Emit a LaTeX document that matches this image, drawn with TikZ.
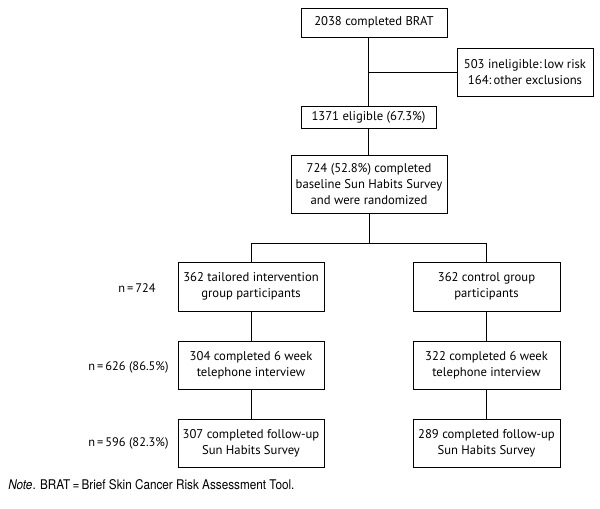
\documentclass[tikz,border=0pt]{standalone}
\usepackage{fontspec}
\setmainfont{PT Sans}
\newfontfamily\notefont[FakeStretch=0.88]{TeX Gyre Heros}
\usepackage{tikz}

\begin{document}
\begin{tikzpicture}[x=0.75pt, y=-0.75pt,
  box/.style={draw, line width=0.7pt, align=center, inner sep=0pt,
    font=\fontsize{9.5}{12}\selectfont},
  nlabel/.style={anchor=west, inner sep=0pt, font=\fontsize{9.3}{12}\selectfont}]
\useasboundingbox (0, 0) rectangle (600, 509);

\node[box, minimum width=109.5pt, minimum height=21.75pt] (brat) at (374, 22.5) {2038 completed BRAT};
\node[box, minimum width=102pt, minimum height=36pt] (excl) at (525, 72) {503 ineligible:\,low risk\\164:\,other exclusions};
\node[box, minimum width=101.25pt, minimum height=16.5pt] (elig) at (368.5, 117) {1371 eligible (67.3\%)};
\node[box, minimum width=117pt, minimum height=43.5pt] (rand) at (369, 184) {724 (52.8\%) completed\\baseline Sun Habits Survey\\and were randomized};

\node[box, minimum width=109.5pt, minimum height=36.75pt] (tail) at (251, 286.5) {362 tailored intervention\\group participants};
\node[box, minimum width=109.5pt, minimum height=36pt] (tailsix) at (251, 365) {304 completed 6 week\\telephone interview};
\node[box, minimum width=109.5pt, minimum height=36pt] (tailfu) at (251, 443) {307 completed follow-up\\Sun Habits Survey};

\node[box, minimum width=110.25pt, minimum height=36.75pt] (ctrl) at (486.5, 286.5) {362 control group\\participants};
\node[box, minimum width=110.25pt, minimum height=36pt] (ctrlsix) at (486.5, 365) {322 completed 6 week\\telephone interview};
\node[box, minimum width=110.25pt, minimum height=36pt] (ctrlfu) at (486.5, 443) {289 completed follow-up\\Sun Habits Survey};

\node[nlabel] (nall) at (118, 288) {n\,=\,724};
\node[nlabel] (nsix) at (88, 367) {n\,=\,626 (86.5\%)};
\node[nlabel] (nfu) at (88, 443) {n\,=\,596 (82.3\%)};

\coordinate (split) at (369, 243);

\draw[line width=0.7pt] (elig.north |- brat.south) -- (elig.north);
\draw[line width=0.7pt] (elig.north |- excl.west) -- (excl.west);
\draw[line width=0.7pt] (elig.south) -- (elig.south |- rand.north);
\draw[line width=0.7pt] (rand.south) -- (split);
\draw[line width=0.7pt] (tail.north) -- (tail.north |- split) -- (ctrl.north |- split) -- (ctrl.north);

\draw[line width=0.7pt] (tail) -- (tailsix);
\draw[line width=0.7pt] (tailsix) -- (tailfu);
\draw[line width=0.7pt] (ctrl) -- (ctrlsix);
\draw[line width=0.7pt] (ctrlsix) -- (ctrlfu);

\node[anchor=west, inner sep=0pt, font=\notefont\fontsize{10}{12}\selectfont] (note) at (8, 485) {\textit{Note}. BRAT\,=\,Brief Skin Cancer Risk Assessment Tool.};
\end{tikzpicture}
\end{document}
